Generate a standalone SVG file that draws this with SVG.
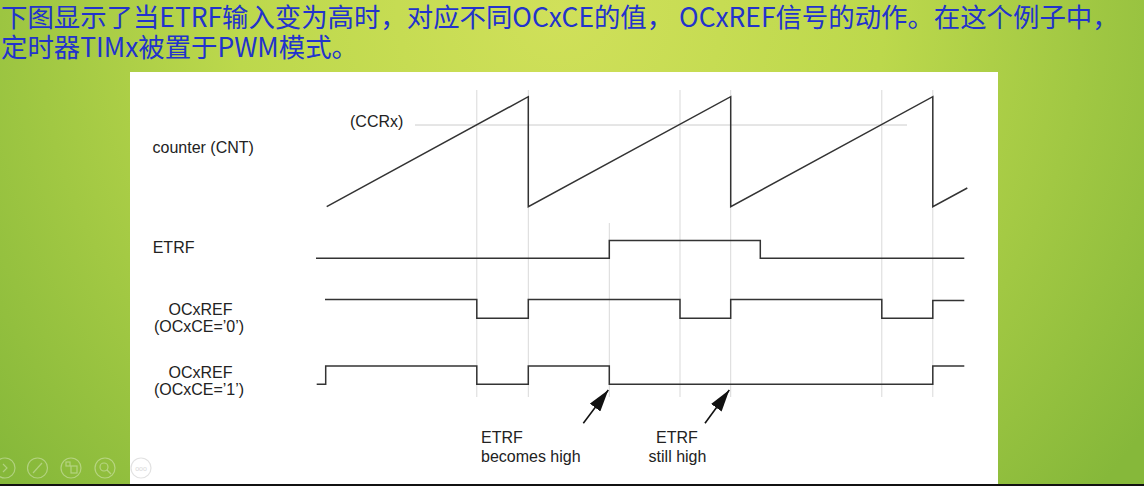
<svg xmlns="http://www.w3.org/2000/svg" width="1144" height="486" viewBox="0 0 1144 486">
  <defs>
    <radialGradient id="bg" cx="560" cy="10" r="720" gradientUnits="userSpaceOnUse">
      <stop offset="0" stop-color="#d0e05a"/>
      <stop offset="0.45" stop-color="#bcd84c"/>
      <stop offset="1" stop-color="#86b83a"/>
    </radialGradient>
    <marker id="arrow" viewBox="0 0 22 13" markerWidth="22" markerHeight="13" refX="22" refY="6.5" orient="auto" markerUnits="userSpaceOnUse">
      <path d="M0,0 L22,6.5 L0,13 z" fill="#111"/>
    </marker>
    <style>
      .title { font-family: "Noto Sans CJK SC", "Noto Sans", sans-serif; font-size: 26.4px; fill: #2233cc; }
      .lbl { font-family: "Liberation Sans", Arial, sans-serif; font-size: 16px; fill: #222; }
      .mid { text-anchor: middle; }
      .grid { stroke: #d9d9d9; stroke-width: 1; fill: none; }
      .sig { stroke: #333; stroke-width: 1.5; fill: none; stroke-linejoin: miter; }
      .arr { stroke: #111; stroke-width: 1.6; fill: none; }
      .ico { fill: none; stroke: #ffffff; stroke-opacity: 0.35; stroke-width: 1.2; }
    </style>
  </defs>

  <rect x="0" y="0" width="1144" height="486" fill="url(#bg)"/>

  <g id="title">
    <text class="title" x="1" y="27">下图显示了当ETRF输入变为高时，对应不同OCxCE的值， OCxREF信号的动作。在这个例子中，</text>
    <text class="title" x="1" y="57">定时器TIMx被置于PWM模式。</text>
  </g>

  <rect id="panel" x="130" y="72" width="868" height="412" fill="#ffffff"/>
  <rect x="0" y="484" width="1144" height="2" fill="#111"/>

  <g id="toolbar">
    <circle class="ico" cx="5" cy="468" r="10"/>
    <path class="ico" d="M3,464 L7,468 L3,472"/>
    <circle class="ico" cx="37.5" cy="468" r="10"/>
    <path class="ico" d="M33,473 L42,463"/>
    <circle class="ico" cx="71" cy="468" r="10"/>
    <rect class="ico" x="66" y="462" width="4" height="4"/>
    <rect class="ico" x="71" y="466" width="6" height="7"/>
    <circle class="ico" cx="105" cy="468" r="10"/>
    <circle class="ico" cx="104" cy="467" r="4"/>
    <path class="ico" d="M107,470 L111,474"/>
    <circle cx="141" cy="468" r="10" fill="none" stroke="#e2e2e2" stroke-width="1.2"/>
    <text x="141" y="471" text-anchor="middle" font-family="Liberation Sans, sans-serif" font-size="7" fill="#d8d8d8">ooo</text>
  </g>

  <g id="gridlines">
    <line class="grid" x1="476.8" y1="90" x2="476.8" y2="397"/>
    <line class="grid" x1="528.3" y1="90" x2="528.3" y2="397"/>
    <line class="grid" x1="609.3" y1="223" x2="609.3" y2="397"/>
    <line class="grid" x1="680" y1="90" x2="680" y2="397"/>
    <line class="grid" x1="730.7" y1="90" x2="730.7" y2="397"/>
    <line class="grid" x1="881.8" y1="90" x2="881.8" y2="397"/>
    <line class="grid" x1="932.8" y1="90" x2="932.8" y2="397"/>
    <line x1="415" y1="125" x2="907" y2="125" stroke="#cccccc" stroke-width="1"/>
  </g>

  <g id="labels">
    <text class="lbl" x="152.5" y="153.3">counter (CNT)</text>
    <text class="lbl" x="350" y="126.8">(CCRx)</text>
    <text class="lbl" x="152.7" y="253.3">ETRF</text>
    <text class="lbl mid" x="200.5" y="315">OCxREF</text>
    <text class="lbl mid" x="199" y="331.6">(OCxCE=’0’)</text>
    <text class="lbl mid" x="200.5" y="378.3">OCxREF</text>
    <text class="lbl mid" x="199" y="394.8">(OCxCE=’1’)</text>
  </g>

  <g id="counter">
    <path class="sig" stroke-width="1.3" d="M326.7,206.7 L528.3,96.7 L528.3,206.7 L730.7,96.7 L730.7,206.7 L932.8,96.7 L932.8,206.7 L967.3,188"/>
  </g>

  <g id="etrf">
    <path class="sig" d="M316,258.3 H609.3 V240.5 H760.3 V258.3 H964.3"/>
  </g>

  <g id="ocxref0">
    <path class="sig" d="M325,299.5 H476.8 V318.3 H528.3 V299.5 H680 V318.3 H730.7 V299.5 H881.8 V318.3 H932.8 V300.5 H964.3"/>
  </g>

  <g id="ocxref1">
    <path class="sig" d="M316.7,384.3 H325.7 V366 H476.8 V384.3 H528.3 V366 H609.3 V384.3 H932.8 V366 H964.3"/>
  </g>

  <g id="connectors">
    <line class="arr" x1="583.3" y1="423.3" x2="608.3" y2="390" marker-end="url(#arrow)"/>
    <line class="arr" x1="705" y1="423.3" x2="729.3" y2="390" marker-end="url(#arrow)"/>
  </g>

  <g id="note-becomes-high">
    <text class="lbl" x="481" y="443.3">ETRF</text>
    <text class="lbl" x="481" y="461.7">becomes high</text>
  </g>

  <g id="note-still-high">
    <text class="lbl mid" x="677" y="443.3">ETRF</text>
    <text class="lbl mid" x="677.5" y="461.7">still high</text>
  </g>
</svg>
